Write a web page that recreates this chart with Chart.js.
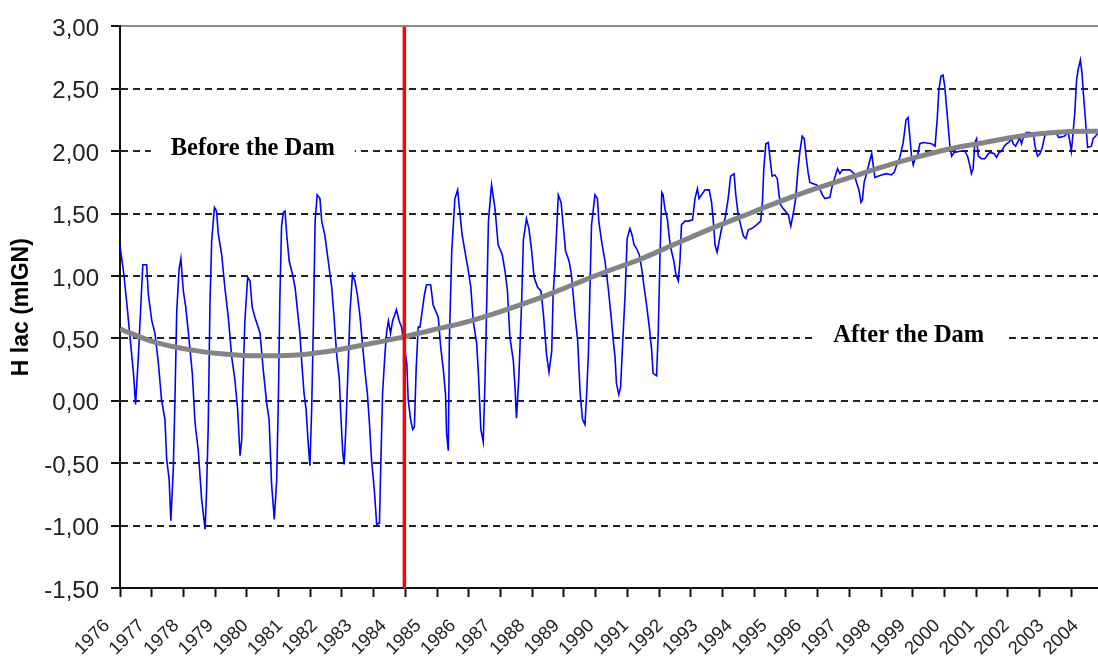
<!DOCTYPE html>
<html>
<head>
<meta charset="utf-8">
<title>H lac - Before / After the Dam</title>
<script src="https://cdn.jsdelivr.net/npm/chart.js@4.4.1/dist/chart.umd.min.js"></script>
<style>
    html, body { margin: 0; padding: 0; background: #ffffff; }
    #wrap { width: 1098px; height: 658px; }
</style>
</head>
<body>
<div id="wrap"><canvas id="lakeChart" width="1098" height="658"></canvas></div>
<script>
// Lake level readings (decimal year, m IGN)
const levelYears = [
    1976.00, 1976.10, 1976.19, 1976.29, 1976.39, 1976.45, 1976.53, 1976.61, 1976.66, 1976.77, 1976.82, 1976.92,
    1977.01, 1977.11, 1977.20, 1977.30, 1977.35, 1977.42, 1977.47, 1977.54, 1977.59, 1977.64, 1977.71, 1977.76,
    1977.83, 1977.90, 1977.99, 1978.09, 1978.17, 1978.26, 1978.36, 1978.46, 1978.50, 1978.55, 1978.60, 1978.65,
    1978.73, 1978.79, 1978.84, 1978.94, 1979.03, 1979.13, 1979.23, 1979.32, 1979.40, 1979.47, 1979.52, 1979.55,
    1979.61, 1979.69, 1979.76, 1979.82, 1979.90, 1980.05, 1980.14, 1980.24, 1980.31, 1980.38, 1980.46, 1980.53,
    1980.58, 1980.62, 1980.67, 1980.72, 1980.77, 1980.82, 1980.89, 1980.99, 1981.06, 1981.12, 1981.20, 1981.25,
    1981.32, 1981.38, 1981.44, 1981.49, 1981.54, 1981.59, 1981.64, 1981.70, 1981.78, 1981.83, 1981.92, 1982.02,
    1982.12, 1982.18, 1982.26, 1982.34, 1982.38, 1982.44, 1982.48, 1982.53, 1982.60, 1982.65, 1982.72, 1982.79,
    1982.86, 1982.94, 1983.01, 1983.08, 1983.15, 1983.21, 1983.27, 1983.35, 1983.42, 1983.50, 1983.53, 1983.59,
    1983.66, 1983.71, 1983.76, 1983.82, 1983.88, 1983.99, 1984.07, 1984.14, 1984.29, 1984.33, 1984.40, 1984.46,
    1984.51, 1984.56, 1984.62, 1984.67, 1984.80, 1984.86, 1984.98, 1985.05, 1985.20, 1985.27, 1985.35, 1985.41,
    1985.44, 1985.49, 1985.52, 1985.59, 1985.68, 1985.76, 1985.83, 1985.89, 1985.97, 1986.07, 1986.14, 1986.21,
    1986.31, 1986.36, 1986.43, 1986.50, 1986.55, 1986.60, 1986.65, 1986.74, 1986.84, 1986.93, 1987.05, 1987.13,
    1987.20, 1987.27, 1987.37, 1987.42, 1987.46, 1987.53, 1987.61, 1987.66, 1987.75, 1987.82, 1987.90, 1987.97,
    1988.07, 1988.17, 1988.24, 1988.33, 1988.40, 1988.48, 1988.52, 1988.57, 1988.67, 1988.75, 1988.81, 1988.88,
    1988.98, 1989.05, 1989.15, 1989.23, 1989.30, 1989.37, 1989.44, 1989.49, 1989.54, 1989.58, 1989.63, 1989.73,
    1989.80, 1989.84, 1989.92, 1990.02, 1990.11, 1990.19, 1990.26, 1990.31, 1990.35, 1990.42, 1990.47, 1990.53,
    1990.60, 1990.66, 1990.74, 1990.80, 1990.86, 1990.93, 1991.01, 1991.08, 1991.15, 1991.22, 1991.30, 1991.37,
    1991.41, 1991.51, 1991.56, 1991.61, 1991.66, 1991.70, 1991.75, 1991.82, 1991.88, 1991.94, 1992.01, 1992.07,
    1992.14, 1992.19, 1992.23, 1992.33, 1992.43, 1992.55, 1992.62, 1992.69, 1992.74, 1992.81, 1992.91, 1993.03,
    1993.10, 1993.15, 1993.20, 1993.26, 1993.32, 1993.39, 1993.49, 1993.58, 1993.65, 1993.75, 1993.80, 1993.87,
    1993.94, 1994.02, 1994.09, 1994.16, 1994.26, 1994.40, 1994.52, 1994.57, 1994.61, 1994.67, 1994.74, 1994.79,
    1994.85, 1994.93, 1995.00, 1995.05, 1995.10, 1995.17, 1995.32, 1995.39, 1995.46, 1995.53, 1995.59, 1995.65,
    1995.72, 1995.78, 1995.83, 1995.89, 1995.94, 1996.04, 1996.14, 1996.23, 1996.30, 1996.38, 1996.52, 1996.57,
    1996.65, 1996.74, 1996.81, 1996.88, 1997.10, 1997.22, 1997.29, 1997.36, 1997.42, 1997.46, 1997.51, 1997.58,
    1997.65, 1997.73, 1997.77, 1997.82, 1998.01, 1998.16, 1998.30, 1998.38, 1998.45, 1998.54, 1998.64, 1998.72,
    1998.78, 1998.83, 1998.88, 1998.93, 1998.98, 1999.05, 1999.12, 1999.22, 1999.46, 1999.56, 1999.62, 1999.67,
    1999.73, 1999.79, 1999.84, 1999.89, 1999.94, 1999.99, 2000.04, 2000.11, 2000.28, 2000.42, 2000.50, 2000.57,
    2000.61, 2000.66, 2000.71, 2000.76, 2000.81, 2000.90, 2001.00, 2001.10, 2001.17, 2001.27, 2001.34, 2001.41,
    2001.48, 2001.56, 2001.63, 2001.69, 2001.77, 2001.82, 2001.89, 2002.01, 2002.06, 2002.11, 2002.20, 2002.30,
    2002.40, 2002.45, 2002.52, 2002.59, 2002.66, 2002.72, 2002.78, 2002.93, 2003.07, 2003.14, 2003.29, 2003.41,
    2003.46, 2003.50, 2003.55, 2003.60, 2003.65, 2003.70, 2003.76, 2003.81, 2003.84, 2003.97, 2004.08, 2004.13,
    2004.20, 2004.27
];
const levelValues = [
    1.24, 1.04, 0.80, 0.51, 0.22, -0.03, 0.35, 0.81, 1.09, 1.09, 0.85, 0.64,
    0.54, 0.30, 0.01, -0.15, -0.47, -0.63, -0.96, -0.55, 0.03, 0.72, 1.06, 1.14,
    0.88, 0.75, 0.51, 0.22, -0.18, -0.39, -0.79, -1.03, -0.74, -0.21, 0.77, 1.28,
    1.55, 1.52, 1.34, 1.17, 0.91, 0.67, 0.35, 0.17, -0.07, -0.44, -0.31, 0.11,
    0.64, 0.99, 0.96, 0.75, 0.67, 0.54, 0.25, -0.02, -0.15, -0.66, -0.95, -0.63,
    0.05, 0.80, 1.40, 1.51, 1.52, 1.33, 1.12, 1.01, 0.91, 0.75, 0.54, 0.32,
    0.06, -0.07, -0.34, -0.52, -0.07, 0.61, 1.44, 1.65, 1.62, 1.44, 1.33, 1.12,
    0.91, 0.70, 0.38, 0.17, -0.10, -0.42, -0.51, -0.21, 0.32, 0.72, 1.01, 0.96,
    0.85, 0.67, 0.45, 0.24, 0.06, -0.18, -0.47, -0.71, -0.99, -0.98, -0.61, 0.06,
    0.38, 0.56, 0.64, 0.54, 0.64, 0.73, 0.64, 0.59, 0.30, 0.01, -0.15, -0.23,
    -0.21, 0.25, 0.59, 0.59, 0.85, 0.93, 0.93, 0.77, 0.67, 0.43, 0.24, 0.05,
    -0.26, -0.40, 0.48, 1.20, 1.62, 1.69, 1.49, 1.33, 1.20, 1.04, 0.91, 0.64,
    0.46, 0.22, -0.23, -0.33, 0.15, 0.77, 1.44, 1.73, 1.54, 1.25, 1.17, 1.04,
    0.88, 0.51, 0.32, 0.10, -0.14, 0.19, 0.80, 1.29, 1.46, 1.38, 1.20, 0.99,
    0.91, 0.88, 0.69, 0.37, 0.23, 0.40, 0.85, 1.06, 1.65, 1.59, 1.41, 1.20,
    1.12, 1.01, 0.69, 0.48, 0.06, -0.15, -0.19, 0.06, 0.38, 0.85, 1.41, 1.65,
    1.62, 1.44, 1.28, 1.12, 0.91, 0.69, 0.48, 0.35, 0.14, 0.05, 0.11, 0.46,
    0.85, 1.30, 1.38, 1.33, 1.25, 1.22, 1.17, 1.06, 0.91, 0.77, 0.59, 0.40,
    0.22, 0.20, 0.56, 1.17, 1.67, 1.65, 1.54, 1.46, 1.30, 1.20, 1.12, 1.01,
    0.96, 1.14, 1.41, 1.44, 1.44, 1.45, 1.62, 1.70, 1.62, 1.65, 1.69, 1.69,
    1.59, 1.44, 1.25, 1.19, 1.28, 1.38, 1.46, 1.62, 1.80, 1.82, 1.65, 1.49,
    1.41, 1.32, 1.30, 1.37, 1.38, 1.41, 1.44, 1.59, 1.86, 2.06, 2.07, 1.94,
    1.80, 1.81, 1.78, 1.65, 1.57, 1.54, 1.49, 1.40, 1.50, 1.62, 1.83, 1.99,
    2.12, 2.10, 1.96, 1.83, 1.75, 1.74, 1.73, 1.70, 1.65, 1.62, 1.63, 1.70,
    1.78, 1.86, 1.82, 1.85, 1.85, 1.82, 1.75, 1.69, 1.59, 1.61, 1.75, 1.82,
    1.90, 1.98, 1.89, 1.79, 1.81, 1.82, 1.81, 1.83, 1.89, 1.95, 2.07, 2.25,
    2.27, 2.12, 1.96, 1.89, 1.94, 1.96, 2.06, 2.07, 2.06, 2.04, 2.25, 2.49,
    2.60, 2.61, 2.52, 2.36, 2.20, 2.04, 1.96, 1.99, 2.00, 2.00, 1.96, 1.88,
    1.82, 1.86, 2.07, 2.10, 1.96, 1.94, 1.94, 1.98, 1.99, 1.98, 1.95, 1.99,
    2.00, 2.04, 2.06, 2.07, 2.10, 2.06, 2.04, 2.11, 2.06, 2.11, 2.15, 2.15,
    2.14, 2.04, 1.96, 1.98, 2.03, 2.11, 2.15, 2.16, 2.14, 2.11, 2.12, 2.15,
    2.07, 2.00, 2.15, 2.31, 2.57, 2.66, 2.73, 2.62, 2.49, 2.03, 2.04, 2.10,
    2.12, 2.15
];

// Smoothed trend (grey curve)
const trendYears = [1976, 1977, 1978, 1979, 1980, 1981, 1982, 1983, 1984, 1985, 1986, 1987, 1988, 1989, 1990,
    1991, 1992, 1993, 1994, 1995, 1996, 1997, 1998, 1999, 2000, 2001, 2002, 2003, 2004, 2004.27];
const trendValues = [0.575, 0.47, 0.41, 0.375, 0.36, 0.365, 0.395, 0.445, 0.50, 0.565, 0.63, 0.715, 0.81, 0.92, 1.03,
    1.13, 1.25, 1.37, 1.48, 1.59, 1.69, 1.78, 1.87, 1.95, 2.02, 2.07, 2.12, 2.15, 2.16, 2.16];

// Dam date (red vertical line)
const damYear = 1984.22;

// Axis ticks
const yTickValues = [-1.5, -1, -0.5, 0, 0.5, 1, 1.5, 2, 2.5, 3];
const yearLabels = [1976, 1977, 1978, 1979, 1980, 1981, 1982, 1983, 1984, 1985, 1986, 1987, 1988, 1989, 1990,
    1991, 1992, 1993, 1994, 1995, 1996, 1997, 1998, 1999, 2000, 2001, 2002, 2003, 2004];
const tickMarkMonths = [0, 11, 22, 33, 44, 55, 66, 77, 88, 99, 110, 121, 132, 143, 154, 165, 176, 187, 198, 209,
    220, 231, 242, 253, 264, 275, 286, 297, 308, 319, 330];
const xMin = 1976;
const xMax = 2004.27;

// Text notes on the plot
const notes = [
    { text: 'Before the Dam', x: 1979.84, y: 2.0 },
    { text: 'After the Dam', x: 1998.8, y: 0.5 }
];

const tickMarkYears = tickMarkMonths.map(m => 1976 + m / 12);

function near(a, b) {
    return Math.abs(a - b) < 1e-6;
}

function isYearLabel(v) {
    return yearLabels.some(y => near(y, v));
}

function isTickMark(v) {
    return tickMarkYears.some(y => near(y, v));
}

// Union of labelled years and tick-mark positions
function buildXTicks() {
    const values = yearLabels.slice();
    tickMarkYears.forEach(v => {
        if (!values.some(y => near(y, v))) values.push(v);
    });
    values.sort((a, b) => a - b);
    return values.map(v => ({ value: v }));
}

// Boxes with text over the grid
const notesPlugin = {
    id: 'notes',
    beforeDatasetsDraw(chart) {
        const ctx = chart.ctx;
        const x = chart.scales.x;
        const y = chart.scales.y;
        ctx.save();
        ctx.font = 'bold 24.5px "Liberation Serif", "Times New Roman", serif';
        notes.forEach(n => {
            const px = x.getPixelForValue(n.x);
            const py = y.getPixelForValue(n.y);
            const w = ctx.measureText(n.text).width + 40;
            ctx.fillStyle = '#ffffff';
            ctx.fillRect(px - w / 2, py - 5, w, 10);
            ctx.fillStyle = '#000000';
            ctx.textAlign = 'center';
            ctx.textBaseline = 'alphabetic';
            ctx.fillText(n.text, px, py + 4);
        });
        ctx.restore();
    }
};

Chart.defaults.font.family = '"Liberation Sans", Arial, sans-serif';

function createLakeChart() {
    const ctx = document.getElementById('lakeChart').getContext('2d');

    new Chart(ctx, {
        type: 'line',
        data: {
            datasets: [
                {
                    label: 'Dam',
                    data: [{ x: damYear, y: -1.5 }, { x: damYear, y: 3 }],
                    borderColor: '#ff0000',
                    borderWidth: 3.5,
                    pointRadius: 0
                },
                {
                    label: 'Trend',
                    data: trendYears.map((x, i) => ({ x: x, y: trendValues[i] })),
                    borderColor: '#848484',
                    borderWidth: 5,
                    pointRadius: 0,
                    cubicInterpolationMode: 'monotone'
                },
                {
                    label: 'H lac',
                    data: levelYears.map((x, i) => ({ x: x, y: levelValues[i] })),
                    borderColor: '#0000ff',
                    borderWidth: 1.6,
                    pointRadius: 0,
                    tension: 0
                }
            ]
        },
        options: {
            responsive: false,
            animation: false,
            layout: { padding: { top: 22, right: 0, left: 0, bottom: 0 } },
            plugins: {
                legend: { display: false },
                tooltip: { enabled: false }
            },
            scales: {
                x: {
                    type: 'linear',
                    min: xMin,
                    max: xMax,
                    afterBuildTicks: axis => { axis.ticks = buildXTicks(); },
                    afterFit: axis => {
                        axis.height = 70;
                        axis.paddingLeft = 0;
                        axis.paddingRight = 0;
                    },
                    ticks: {
                        autoSkip: false,
                        minRotation: 45,
                        maxRotation: 45,
                        labelOffset: -13,
                        padding: 18,
                        color: '#222222',
                        font: { size: 18.5 },
                        callback: v => isYearLabel(v) ? String(Math.round(v)) : ''
                    },
                    grid: {
                        drawOnChartArea: false,
                        drawTicks: true,
                        tickLength: 9,
                        tickWidth: 2,
                        tickColor: c => (c.tick && isTickMark(c.tick.value)) ? '#111111' : 'rgba(0,0,0,0)'
                    },
                    border: { color: '#111111', width: 2 }
                },
                y: {
                    min: -1.5,
                    max: 3,
                    afterBuildTicks: axis => { axis.ticks = yTickValues.map(v => ({ value: v })); },
                    afterFit: axis => { axis.width = 120; },
                    ticks: {
                        padding: 12,
                        labelOffset: 3,
                        color: '#222222',
                        font: { size: 24 },
                        callback: v => v.toFixed(2).replace('.', ',')
                    },
                    grid: {
                        color: c => {
                            if (!c.tick) return '#222222';
                            if (c.tick.value === 3) return '#8c8c8c';
                            if (c.tick.value === -1.5) return 'rgba(0,0,0,0)';
                            return '#222222';
                        },
                        lineWidth: 2,
                        tickLength: 9,
                        tickWidth: 2,
                        tickColor: '#111111'
                    },
                    border: {
                        color: '#111111',
                        width: 2,
                        dash: c => (c.tick && c.tick.value === 3) ? [] : [7, 5]
                    },
                    title: {
                        display: true,
                        text: 'H lac (mIGN)',
                        color: '#000000',
                        font: { size: 23, weight: 'bold' },
                        padding: { top: 8, bottom: 0 }
                    }
                }
            }
        },
        plugins: [notesPlugin]
    });
}

document.addEventListener('DOMContentLoaded', createLakeChart);
</script>
</body>
</html>
